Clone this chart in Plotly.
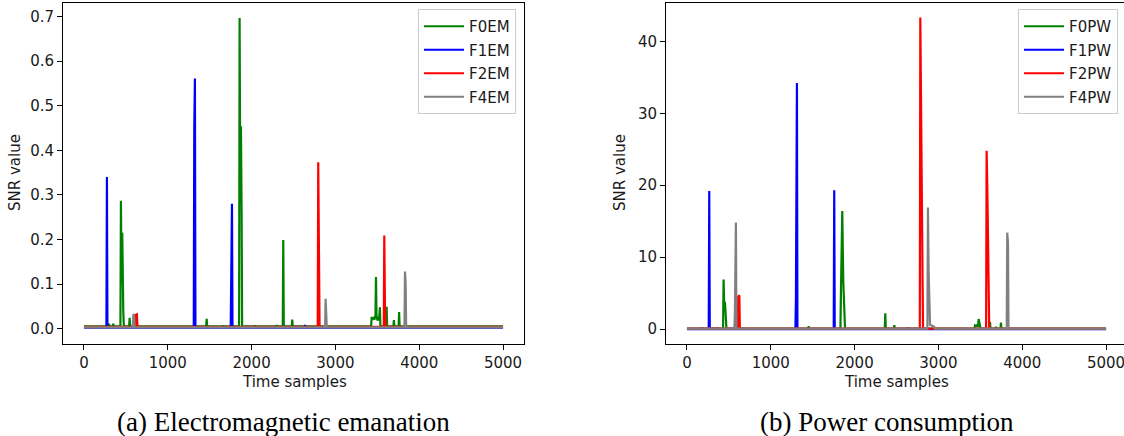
import plotly.graph_objects as go

W, H = 1124, 436

# ---------------- Data ----------------
# Electromagnetic emanation (EM)
f0em_t = [0, 294, 300, 306, 344, 350, 356, 435, 441, 449, 457, 465, 469, 476,
          539, 545, 551, 1458, 1464, 1470, 1656, 1662, 1668, 1851, 1857, 1865, 1873, 1881, 1887,
          2034, 2040, 2046, 2293, 2299, 2305, 2372, 2378, 2384, 2479, 2485, 2491,
          3426, 3432, 3450, 3465, 3478, 3484, 3490, 3500, 3520, 3531, 3537,
          3605, 3611, 3617, 3692, 3698, 3704, 3754, 3760, 3766, 5000]
f0em_v = [0.005, 0.005, 0.011, 0.005, 0.005, 0.011, 0.005, 0.005, 0.287, 0.1, 0.215, 0.04, 0.039, 0.005,
          0.005, 0.024, 0.005, 0.005, 0.022, 0.005, 0.005, 0.007, 0.005, 0.005, 0.697, 0.3, 0.454, 0.255, 0.005,
          0.005, 0.007, 0.005, 0.005, 0.008, 0.005, 0.005, 0.199, 0.005, 0.005, 0.02, 0.005,
          0.005, 0.024, 0.024, 0.02, 0.03, 0.116, 0.03, 0.02, 0.02, 0.048, 0.005,
          0.005, 0.049, 0.005, 0.005, 0.019, 0.005, 0.005, 0.037, 0.005, 0.005]

f1em_t = [0, 268, 274, 280, 1127, 1133, 1139, 1310, 1316, 1324, 1330, 1484, 1490, 1496,
          1751, 1757, 1766, 1772, 2519, 2525, 2531, 2631, 2637, 2643, 5000]
f1em_v = [0.002, 0.002, 0.34, 0.002, 0.002, 0.005, 0.002, 0.002, 0.45, 0.561, 0.002, 0.002, 0.005, 0.002,
          0.002, 0.244, 0.28, 0.002, 0.002, 0.006, 0.002, 0.002, 0.008, 0.002, 0.002]

f2em_t = [0, 614, 620, 632, 638, 2789, 2795, 2805, 2811, 3577, 3583, 3591, 3597, 5000]
f2em_v = [0.004, 0.004, 0.031, 0.032, 0.004, 0.004, 0.373, 0.177, 0.004, 0.004, 0.209, 0.05, 0.004, 0.004]

f4em_t = [0, 584, 590, 598, 604, 2877, 2883, 2891, 2897, 3824, 3830, 3838, 3844, 5000]
f4em_v = [0.003, 0.003, 0.032, 0.031, 0.003, 0.003, 0.067, 0.031, 0.003, 0.003, 0.128, 0.1, 0.003, 0.003]

# Power consumption (PW)
f0pw_t = [0, 304, 310, 316, 364, 370, 376, 431, 437, 445, 453, 465, 471, 1446, 1452, 1458,
          1831, 1837, 1853, 1865, 1880, 1886, 2360, 2366, 2372, 2468, 2474, 2480,
          3430, 3436, 3450, 3460, 3472, 3480, 3495, 3501, 3609, 3615, 3621, 3681, 3687, 3693,
          3740, 3746, 3752, 5000]
f0pw_v = [0.05, 0.05, 0.2, 0.05, 0.05, 0.25, 0.05, 0.05, 6.9, 3.0, 3.8, 0.8, 0.05, 0.05, 0.4, 0.05,
          0.05, 5.1, 16.4, 6.6, 0.6, 0.05, 0.05, 2.2, 0.05, 0.05, 0.55, 0.05,
          0.05, 0.5, 0.4, 0.6, 0.3, 1.4, 0.5, 0.05, 0.05, 1.0, 0.05, 0.05, 0.3, 0.05,
          0.05, 0.9, 0.05, 0.05]

f1pw_t = [0, 179, 185, 191, 260, 266, 272, 1294, 1300, 1312, 1318, 1751, 1757, 1763,
          2624, 2630, 2636, 5000]
f1pw_v = [0.0, 0.0, 0.2, 0.0, 0.0, 19.2, 0.0, 0.0, 4.0, 34.2, 0.0, 0.0, 19.3, 0.0,
          0.0, 0.2, 0.0, 0.0]

f2pw_t = [0, 606, 612, 625, 631, 2778, 2784, 2800, 2810, 2816, 3569, 3575, 3583, 3600, 3606, 5000]
f2pw_v = [0.05, 0.05, 4.5, 4.7, 0.05, 0.05, 43.3, 17.9, 1.0, 0.05, 0.05, 24.8, 20.0, 1.2, 0.05, 0.05]

f4pw_t = [0, 566, 572, 584, 590, 2869, 2875, 2883, 2900, 2950, 2956, 3815, 3821, 3830, 3836, 5000]
f4pw_v = [0.05, 0.05, 2.2, 14.8, 0.05, 0.05, 16.9, 8.1, 0.6, 0.3, 0.05, 0.05, 13.4, 12.0, 0.05, 0.05]

x_ticks = [0, 1000, 2000, 3000, 4000, 5000]
em_y_ticks = [0.0, 0.1, 0.2, 0.3, 0.4, 0.5, 0.6, 0.7]
pw_y_ticks = [0, 10, 20, 30, 40]

GREEN, BLUE, RED, GRAY = "#008000", "#0000ff", "#ff0000", "#808080"

em_series = [("F0EM", f0em_t, f0em_v, GREEN), ("F1EM", f1em_t, f1em_v, BLUE),
             ("F2EM", f2em_t, f2em_v, RED), ("F4EM", f4em_t, f4em_v, GRAY)]
pw_series = [("F0PW", f0pw_t, f0pw_v, GREEN), ("F1PW", f1pw_t, f1pw_v, BLUE),
             ("F2PW", f2pw_t, f2pw_v, RED), ("F4PW", f4pw_t, f4pw_v, GRAY)]

fig = go.Figure()
for i, (name, t, v, c) in enumerate(em_series):
    fig.add_trace(go.Scatter(x=t, y=v, mode="lines", name=name, line=dict(color=c, width=2.2),
                             xaxis="x", yaxis="y", legend="legend", legendgroup="a%d" % i))
for i, (name, t, v, c) in enumerate(pw_series):
    fig.add_trace(go.Scatter(x=t, y=v, mode="lines", name=name, line=dict(color=c, width=2.2),
                             xaxis="x2", yaxis="y2", legend="legend2", legendgroup="b%d" % i))

def px(x):
    return x / W

def py(y):
    return 1 - y / H

FONT = "DejaVu Sans"
TXT = "#1a1a1a"
ydom = [py(344), py(2.5)]

axis_common = dict(showgrid=False, zeroline=False, showline=True, linecolor="#000", linewidth=1,
                   ticks="outside", ticklen=5, tickwidth=1, tickcolor="#000",
                   ticklabeloverflow="allow",
                   tickfont=dict(family=FONT, size=15, color=TXT))

fig.update_layout(
    width=W, height=H, margin=dict(l=0, r=0, t=0, b=0),
    paper_bgcolor="white", plot_bgcolor="white",
    xaxis=dict(domain=[px(63), px(524)], range=[-250, 5250], tickvals=x_ticks,
               mirror=True, anchor="y", **axis_common),
    yaxis=dict(domain=ydom, range=[-0.0345, 0.7315], tickvals=em_y_ticks, tickformat=".1f",
               mirror=True, anchor="x", **axis_common),
    xaxis2=dict(domain=[px(666), 1.0], range=[-250, 5214], tickvals=x_ticks,
                mirror=True, anchor="y2", **axis_common),
    yaxis2=dict(domain=ydom, range=[-2.08, 45.4], tickvals=pw_y_ticks,
                mirror=False, anchor="x2", **axis_common),
    legend=dict(x=px(516), y=py(9), xanchor="right", yanchor="top",
                bgcolor="rgba(255,255,255,0.8)", bordercolor="#cccccc", borderwidth=1,
                font=dict(family=FONT, size=15, color=TXT), tracegroupgap=1, itemwidth=40),
    legend2=dict(x=px(1118), y=py(9), xanchor="right", yanchor="top",
                 bgcolor="rgba(255,255,255,0.8)", bordercolor="#cccccc", borderwidth=1,
                 font=dict(family=FONT, size=15, color=TXT), tracegroupgap=1, itemwidth=40),
    showlegend=True,
)

# top spine for right plot (right spine is cropped in the reference)
fig.add_shape(type="line", xref="paper", yref="paper", x0=px(666), x1=1.0, y0=py(2.5), y1=py(2.5),
              line=dict(color="#000", width=1))

ann = [
    dict(text="Time samples", x=px(294), y=py(382)),
    dict(text="Time samples", x=px(896), y=py(382)),
    dict(text="SNR value", x=px(15), y=py(173), textangle=-90),
    dict(text="SNR value", x=px(620), y=py(173), textangle=-90),
]
for a in ann:
    fig.add_annotation(xref="paper", yref="paper", xanchor="center", yanchor="middle", showarrow=False,
                       font=dict(family=FONT, size=15, color=TXT), **a)

for text, cx in [("(a) Electromagnetic emanation", 283), ("(b) Power consumption", 887)]:
    fig.add_annotation(text=text, xref="paper", yref="paper", x=px(cx), y=py(422),
                       xanchor="center", yanchor="middle", showarrow=False,
                       font=dict(family="Liberation Serif", size=27, color="#000"))

fig.write_html("out.html")
